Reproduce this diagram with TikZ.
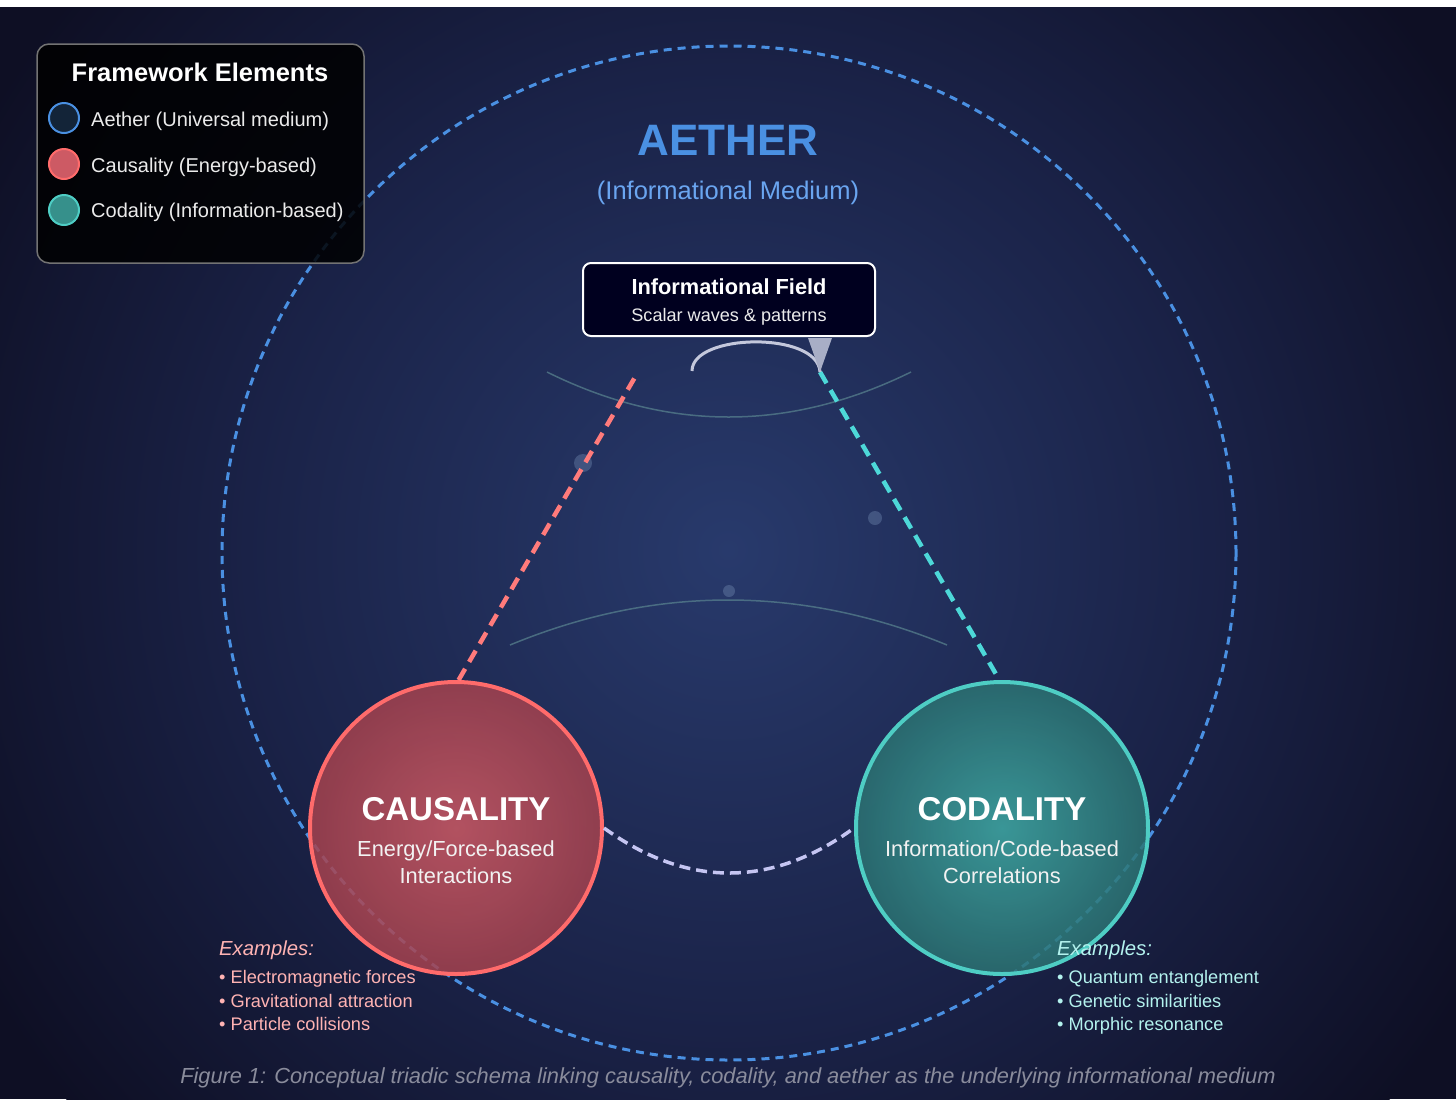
\documentclass[tikz,border=0pt]{standalone}
\usepackage{fontspec}
\setmainfont{Liberation Sans}
\usetikzlibrary{arrows.meta}
\definecolor{bginner}{HTML}{283A6C}
\definecolor{bgmid}{HTML}{1A2247}
\definecolor{bgouter}{HTML}{0E0F24}
\definecolor{aetherblue}{HTML}{4A90E2}
\definecolor{subblue}{HTML}{6AA5F0}
\definecolor{causstroke}{HTML}{FF6B6B}
\definecolor{causin}{HTML}{CD5A64}
\definecolor{causout}{HTML}{A4424E}
\definecolor{codstroke}{HTML}{4ECDC4}
\definecolor{codin}{HTML}{3FAAA4}
\definecolor{codout}{HTML}{2B7272}
\definecolor{reddash}{HTML}{FF7B7B}
\definecolor{cyandash}{HTML}{4DD8D8}
\definecolor{lavender}{HTML}{C5C5F2}
\definecolor{exred}{HTML}{FFB3B3}
\definecolor{excyan}{HTML}{B3F2EE}
\definecolor{captiongrey}{HTML}{8A8C9C}
\definecolor{arcgrey}{HTML}{5A8590}
\definecolor{dotcol}{HTML}{7088B0}
\definecolor{pointer}{HTML}{C4C8DC}
\definecolor{pointertip}{HTML}{A8AEC6}
\pgfdeclareradialshading{bgrad}{\pgfpoint{0bp}{0bp}}{color(0bp)=(bginner); color(14bp)=(bgmid); color(25bp)=(bgouter); color(50bp)=(bgouter)}
\pgfdeclareradialshading{causrad}{\pgfpoint{0bp}{0bp}}{color(0bp)=(causin); color(25bp)=(causout); color(50bp)=(causout)}
\pgfdeclareradialshading{codrad}{\pgfpoint{0bp}{0bp}}{color(0bp)=(codin); color(25bp)=(codout); color(50bp)=(codout)}
\tikzset{
  bigcircle/.style={circle, minimum size=292pt, inner sep=0pt, line width=4pt, shade, fill opacity=0.85},
  legcircle/.style={circle, minimum size=30pt, inner sep=0pt, line width=2pt},
  legtext/.style={anchor=base west, inner sep=0pt, text=white!92!black, font=\fontsize{20}{24}\selectfont},
  circtitle/.style={anchor=base, text=white, font=\fontsize{33}{37}\bfseries\selectfont},
  circsub/.style={anchor=base, text=white!95!black, font=\fontsize{21.8}{26}\selectfont},
  extitle/.style={anchor=base west, inner sep=0pt, font=\fontsize{20.3}{24}\itshape\selectfont},
  exitem/.style={anchor=base west, inner sep=0pt, font=\fontsize{18.2}{21}\selectfont},
  thinarc/.style={draw=arcgrey, line width=1.5pt, draw opacity=0.7},
  dotstyle/.style={fill=dotcol, fill opacity=0.4},
}
\begin{document}
\begin{tikzpicture}[x=1pt,y=-1pt]
\useasboundingbox (0,0) rectangle (1456,1104);
\fill[white] (0,0) rectangle (1456,1104);
\fill[bgouter] (0,7) rectangle (1456,1099);
\begin{scope}
  \clip (0,7) rectangle (1456,1099);
  \shade[shading=bgrad] (728,550) circle[radius=860pt];
\end{scope}

% aether circle
\node[circle, minimum size=1014pt, inner sep=0pt, draw=aetherblue, line width=3pt, dash pattern=on 8pt off 6pt] (aether) at (729,553) {};

% thin field arcs
\draw[thinarc] (547,372) .. controls (668,432) and (789,432) .. (911,372);
\draw[thinarc] (510,645) .. controls (655,585) and (801,585) .. (947,645);

% dots
\fill[dotstyle] (583,463) circle[radius=9pt];
\fill[dotstyle] (875,518) circle[radius=7pt];
\fill[dotstyle] (729,591) circle[radius=6pt];

% main circles
\node[bigcircle, shading=causrad, draw=causstroke] (caus) at (456,828) {};
\node[bigcircle, shading=codrad, draw=codstroke] (cod) at (1002,828) {};

% connectors
\coordinate (redend) at (638,372);
\coordinate (cyanstart) at (820,372);
\draw[reddash, line width=4.5pt, dash pattern=on 13pt off 8pt] (caus.89) -- (redend);
\draw[cyandash, line width=4.5pt, dash pattern=on 13pt off 8pt] (cyanstart) -- (cod.91);
\draw[lavender, line width=3.5pt, dash pattern=on 11pt off 6pt] (caus.east) .. controls (687,888) and (772,888) .. (cod.west);

% circle texts
\node[circtitle] at (456,820) {CAUSALITY};
\node[circsub] at (456,856) {Energy/Force-based};
\node[circsub] at (456,883) {Interactions};
\node[circtitle] at (1002,820) {CODALITY};
\node[circsub] at (1002,856) {Information/Code-based};
\node[circsub] at (1002,883) {Correlations};

% aether title
\node[anchor=base, text=aetherblue, font=\fontsize{44}{50}\bfseries\selectfont] (atitle) at (728,155) {AETHER};
\node[anchor=base, text=subblue, font=\fontsize{25.5}{30}\selectfont] (asub) at (728,199) {(Informational Medium)};

% informational field box
\node[draw=white, line width=2pt, fill=black!88!blue, rounded corners=8pt, minimum width=292pt, minimum height=73pt, inner sep=0pt] (infobox) at (729,299.5) {};
\node[anchor=base, text=white, font=\fontsize{21.8}{25}\bfseries\selectfont] at (729,294) {Informational Field};
\node[anchor=base, text=white!92!black, font=\fontsize{18.1}{21}\selectfont] at (729,321) {Scalar waves \& patterns};
\coordinate (ptrstart) at (692,371);
\draw[pointer, line width=3pt] (ptrstart) .. controls (692,333) and (818,331) .. (cyanstart);
\fill[pointertip] (808,338) -- (832,338) -- (cyanstart) -- cycle;

% examples
\node[extitle, text=exred] at (219,955) {Examples:};
\node[exitem, text=exred] at (219,983) {\textbullet\ Electromagnetic forces};
\node[exitem, text=exred] at (219,1007) {\textbullet\ Gravitational attraction};
\node[exitem, text=exred] at (219,1030) {\textbullet\ Particle collisions};
\node[extitle, text=excyan] at (1057,955) {Examples:};
\node[exitem, text=excyan] at (1057,983) {\textbullet\ Quantum entanglement};
\node[exitem, text=excyan] at (1057,1007) {\textbullet\ Genetic similarities};
\node[exitem, text=excyan] at (1057,1030) {\textbullet\ Morphic resonance};

% caption
\node[anchor=base, text=captiongrey, font=\fontsize{21.8}{25}\itshape\selectfont] (caption) at (728,1083) {Figure 1: Conceptual triadic schema linking causality, codality, and aether as the underlying informational medium};

% legend
\node[draw=black!55, line width=1.5pt, fill=black, fill opacity=0.85, rounded corners=12pt, minimum width=327pt, minimum height=219pt, inner sep=0pt] (legend) at (200.5,153.5) {};
\node[anchor=base, text=white, font=\fontsize{25.5}{29}\bfseries\selectfont] at (200,81) {Framework Elements};
\node[legcircle, draw=aetherblue, fill=aetherblue!25!black] (la) at (64,118) {};
\node[legcircle, draw=causstroke, fill=causin] (lc) at (64,164) {};
\node[legcircle, draw=codstroke, fill=codin!85!black] (lo) at (64,210) {};
\node[legtext] at (91,126) {Aether (Universal medium)};
\node[legtext] at (91,172) {Causality (Energy-based)};
\node[legtext] at (91,217) {Codality (Information-based)};
\end{tikzpicture}
\end{document}
